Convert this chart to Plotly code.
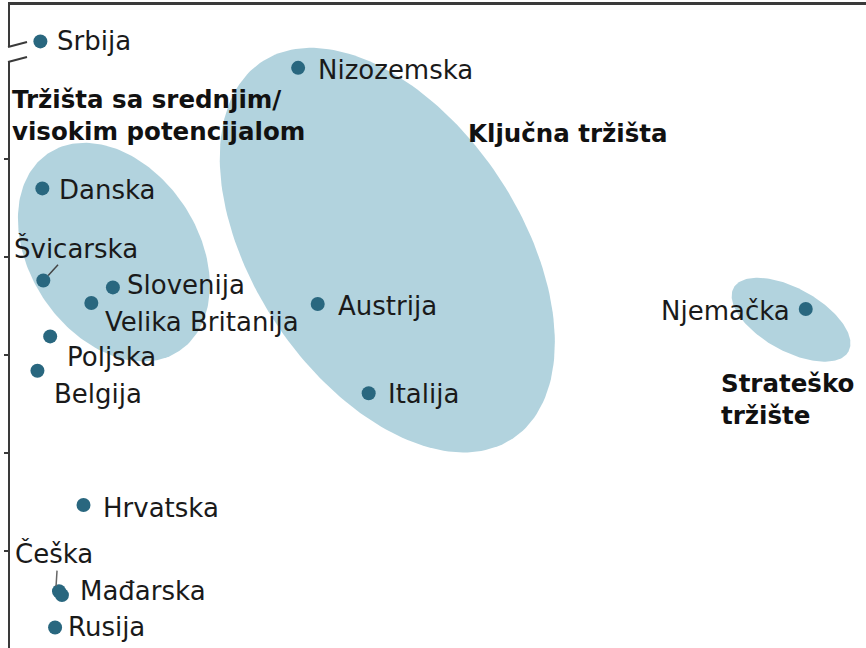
import numpy as np
import plotly.graph_objects as go

# ---------------- data ----------------
countries = ["Srbija", "Nizozemska", "Danska", "Švicarska", "Slovenija",
             "Velika Britanija", "Poljska", "Belgija", "Austrija", "Italija",
             "Njemačka", "Hrvatska", "Češka", "Mađarska", "Rusija"]
x_vals = [0.31, 2.94, 0.33, 0.34, 1.05, 0.83, 0.41, 0.28, 3.14, 3.66,
          8.12, 0.75, 0.50, 0.53, 0.46]
y_vals = [6.20, 5.93, 4.70, 3.76, 3.69, 3.53, 3.19, 2.84, 3.52, 2.61,
          3.47, 1.47, 0.59, 0.55, 0.22]

groups = ["Tržišta sa srednjim/<br>visokim potencijalom", "Ključna tržišta",
          "Strateško<br>tržište"]
group_cx = [1.06, 3.85, 7.97]
group_cy = [4.05, 4.07, 3.36]
group_a = [1.21, 2.31, 0.67]
group_b = [0.86, 1.36, 0.32]
group_angle = [-56.6, -56.3, -29.0]

y_ticks = [1, 2, 3, 4, 5]

# ---------------- styling / layout helpers ----------------
ELLIPSE_FILL = "#b2d3de"
DOT = "#29677f"
AXIS = "#3a3a3a"
FONT = "DejaVu Sans"

# label placement: (xanchor, xshift px, yshift px)
label_pos = {
    "Srbija": ("left", 8, 0),
    "Nizozemska": ("left", 11, -2),
    "Danska": ("left", 8, -2),
    "Švicarska": ("left", -38, 32),
    "Slovenija": ("left", 5, 2),
    "Velika Britanija": ("left", 5, -19),
    "Poljska": ("left", 8, -21),
    "Belgija": ("left", 8, -23),
    "Austrija": ("left", 11, -2),
    "Italija": ("left", 10, -1),
    "Njemačka": ("right", -7, -2),
    "Hrvatska": ("left", 10, -3),
    "Češka": ("left", -53, 38),
    "Mađarska": ("left", 9, 4),
    "Rusija": ("left", 4, 0),
}
# group label anchor (data coords, left/middle)
group_lab_xy = [(0.0, 5.44), (4.65, 5.265), (7.23, 2.546)]

fig = go.Figure()

# ellipses
t = np.linspace(0, 2 * np.pi, 200)
for cx, cy, a, b, ang in zip(group_cx, group_cy, group_a, group_b, group_angle):
    th = np.deg2rad(ang)
    ex = cx + a * np.cos(t) * np.cos(th) - b * np.sin(t) * np.sin(th)
    ey = cy + a * np.cos(t) * np.sin(th) + b * np.sin(t) * np.cos(th)
    fig.add_trace(go.Scatter(x=ex, y=ey, mode="lines", fill="toself",
                             fillcolor=ELLIPSE_FILL, line=dict(width=0),
                             hoverinfo="skip", showlegend=False))

# dots
fig.add_trace(go.Scatter(x=x_vals, y=y_vals, mode="markers",
                         marker=dict(size=14, color=DOT),
                         text=countries, hoverinfo="text", showlegend=False))

annotations = []
for name, xv, yv in zip(countries, x_vals, y_vals):
    anc, xs, ys = label_pos[name]
    annotations.append(dict(x=xv, y=yv, xref="x", yref="y", text=name,
                            showarrow=False, xanchor=anc, yanchor="middle",
                            xshift=(7 if anc == "left" else -7) + xs, yshift=ys,
                            font=dict(family=FONT, size=26, color="#1a1a1a")))
for g, (gx, gy) in zip(groups, group_lab_xy):
    annotations.append(dict(x=gx, y=gy, xref="x", yref="y",
                            text="<b>" + g + "</b>", showarrow=False,
                            xanchor="left", yanchor="middle", align="left",
                            font=dict(family=FONT, size=24.5, color="#111111")))

W, H = 866, 648
L, T = 10, 5


def px_x(px):
    return (px - L) / (W - L)


def px_y(py):
    return (H - py) / (H - T)


shapes = [
    # axis break
    dict(type="rect", xref="paper", yref="paper", x0=px_x(5), x1=px_x(15),
         y0=px_y(61), y1=px_y(47), fillcolor="white", line=dict(width=0),
         layer="above"),
    dict(type="line", xref="paper", yref="paper", x0=px_x(8), y0=px_y(47),
         x1=px_x(27), y1=px_y(42), line=dict(color=AXIS, width=2), layer="above"),
    dict(type="line", xref="paper", yref="paper", x0=px_x(8), y0=px_y(62),
         x1=px_x(27), y1=px_y(57), line=dict(color=AXIS, width=2), layer="above"),
    # leader lines
    dict(type="line", xref="x", yref="y", x0=0.39, y0=3.81, x1=0.49, y1=3.92,
         line=dict(color="#444444", width=1.5)),
    dict(type="line", xref="x", yref="y", x0=0.48, y0=0.80, x1=0.47, y1=0.64,
         line=dict(color="#666666", width=1.5)),
]

fig.update_layout(
    width=W, height=H,
    margin=dict(l=L, r=0, t=T, b=0),
    paper_bgcolor="white", plot_bgcolor="white",
    showlegend=False,
    annotations=annotations,
    shapes=shapes,
    xaxis=dict(range=[0, (W - L) / 98], side="top", showline=True,
               linecolor=AXIS, linewidth=2.5, showgrid=False, zeroline=False,
               showticklabels=False, ticks="", fixedrange=True),
    yaxis=dict(range=[(649 - H) / 98, (649 - T) / 98], showline=True,
               linecolor=AXIS, linewidth=2, showgrid=False, zeroline=False,
               tickvals=y_ticks, ticks="outside", ticklen=4, tickwidth=1.5,
               tickcolor=AXIS, showticklabels=False, fixedrange=True),
)

fig.write_html("out.html", config={"displayModeBar": False},
               post_script="document.body.style.margin='0px';"
                           "document.body.style.overflow='hidden';")
